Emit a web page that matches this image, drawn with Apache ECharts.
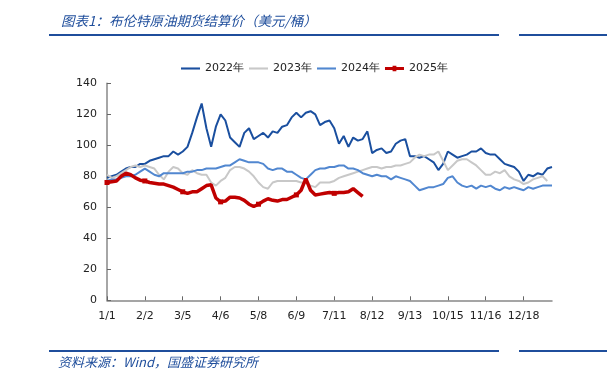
<!DOCTYPE html>
<html><head><meta charset="utf-8">
<script src="https://cdn.jsdelivr.net/npm/echarts@6/dist/echarts.min.js"></script>
<style>html,body{margin:0;padding:0;background:#fff}#c{width:607px;height:383px}</style>
</head><body><div id="c"></div>
<script>
const seriesNames = ['2022年', '2023年', '2024年', '2025年'];
const tickLabels = ['1/1','2/2','3/5','4/6','5/8','6/9','7/11','8/12','9/13','10/15','11/16','12/18'];
const yTicks = [0, 20, 40, 60, 80, 100, 120, 140];

// values sampled every 4 calendar days from 1/1 (leap-year calendar)
const v2022 = [79,80,81,83,85,86,86,88,88,90,
  91,92,93,93,96,94,96,99,108,118,
  127,111,99,112,120,116,105,102,99,108,
  111,104,106,108,105,109,108,112,113,118,
  121,118,121,122,120,113,115,116,111,101,
  106,99,105,103,104,109,95,97,98,95,
  96,101,103,104,93,93,92,93,91,89,
  84,88,96,94,92,93,94,96,96,98,
  95,94,94,91,88,87,86,83,77,81,
  80,82,81,85,86];
const v2023 = [81,79,80,82,84,86,87,86,87,86,
  85,81,78,83,86,85,82,81,84,82,
  81,81,76,74,77,79,84,86,86,85,
  83,80,76,73,72,76,77,77,77,77,
  77,76,76,74,73,76,76,76,77,79,
  80,81,82,83,84,85,86,86,85,86,
  86,87,87,88,89,92,94,93,94,94,
  96,90,84,87,90,91,91,89,87,84,
  81,81,83,82,84,80,78,77,75,76,
  78,79,80,77,null];
const v2024 = [77,78,78,79,80,80,81,83,85,83,
  81,80,82,82,82,82,82,83,83,84,
  84,85,85,85,86,87,87,89,91,90,
  89,89,89,88,85,84,85,85,83,83,
  81,79,78,81,84,85,85,86,86,87,
  87,85,85,84,82,81,80,81,80,80,
  78,80,79,78,77,74,71,72,73,73,
  74,75,79,80,76,74,73,74,72,74,
  73,74,72,71,73,72,73,72,71,73,
  72,73,74,74,74];
const v2025 = [76,76.5,77,80,82,81,79,77.5,77,76,
  75.5,75,75,74,73,71.5,70,69,70,70,
  72,74,74.5,66,63.5,64,66.5,66.5,66,64.5,
  62,60.5,62,64,65.5,64.5,64,65,65,66.5,
  68,71,78.5,71,68,68.5,69,69.5,69,69.5,
  69.5,70,72,69.5,67];

const categories = [];
for (let i = 0; i < v2022.length; i++) {
  const d = new Date(2024, 0, 1 + 4 * i);
  categories.push((d.getMonth() + 1) + '/' + d.getDate());
}

const blue = '#1f4e9c';
const colors = ['#1a4f9f', '#c8c8c8', '#5187d0', '#c00000'];
const lineIcon = 'path://M0,0 H20 V2.2 H0 Z';
const markIcon = 'path://M0,2 H20 V5 H0 Z M8,0.5 H12 V6.5 H8 Z';
const chart = echarts.init(document.getElementById('c'), null, {renderer: 'canvas'});
const lineSeries = (name, data, color, w) => ({
  name, type: 'line', data, symbol: 'none', showSymbol: false,
  lineStyle: {color, width: w}, itemStyle: {color}, smooth: false
});
chart.setOption({
  animation: false,
  title: {
    text: '图表1：布伦特原油期货结算价（美元/桶）', left: 56, top: 9,
    textStyle: {fontSize: 13.5, fontStyle: 'italic', fontWeight: 'normal', color: blue, fontFamily: 'Noto Sans CJK SC'}
  },
  legend: {
    data: [
      {name: seriesNames[0], icon: lineIcon},
      {name: seriesNames[1], icon: lineIcon},
      {name: seriesNames[2], icon: lineIcon},
      {name: seriesNames[3], icon: markIcon}
    ],
    left: 176, top: 58, itemWidth: 19, itemHeight: 12, itemGap: 5,
    textStyle: {fontSize: 11, color: '#222', fontFamily: 'DejaVu Sans'}
  },
  grid: {left: 107, right: 55, top: 83.3, bottom: 82.7, containLabel: false},
  xAxis: {
    type: 'category', data: categories, boundaryGap: false,
    axisLine: {lineStyle: {color: '#888', width: 1.5}},
    axisTick: {inside: true, length: 4, interval: 7, lineStyle: {color: '#666'}},
    axisLabel: {interval: 7, margin: 10, fontSize: 11, color: '#222', fontFamily: 'DejaVu Sans',
      formatter: (v, idx) => tickLabels[idx / 8] || ''},
    splitLine: {show: false}
  },
  yAxis: {
    type: 'value', min: yTicks[0], max: yTicks[yTicks.length - 1], interval: 20,
    axisLine: {show: true, lineStyle: {color: '#888', width: 1.5}},
    axisTick: {show: true, inside: true, length: 4, lineStyle: {color: '#666'}},
    axisLabel: {margin: 10, fontSize: 11, color: '#222', fontFamily: 'DejaVu Sans'},
    splitLine: {show: false}
  },
  series: [
    lineSeries(seriesNames[0], v2022, colors[0], 2),
    lineSeries(seriesNames[1], v2023, colors[1], 2),
    lineSeries(seriesNames[2], v2024, colors[2], 2),
    {name: seriesNames[3], type: 'line', data: v2025, symbol: 'rect', symbolSize: 5, showSymbol: true,
      lineStyle: {color: colors[3], width: 3.5}, itemStyle: {color: colors[3]}}
  ],
  graphic: [
    {type: 'line', shape: {x1: 49, y1: 35, x2: 499, y2: 35}, style: {stroke: blue, lineWidth: 2}},
    {type: 'line', shape: {x1: 519, y1: 35, x2: 607, y2: 35}, style: {stroke: blue, lineWidth: 2}},
    {type: 'line', shape: {x1: 49, y1: 351, x2: 499, y2: 351}, style: {stroke: blue, lineWidth: 2}},
    {type: 'line', shape: {x1: 519, y1: 351, x2: 607, y2: 351}, style: {stroke: blue, lineWidth: 2}},
    {type: 'text', left: 58, top: 356, style: {text: '资料来源：Wind，国盛证券研究所', fontSize: 13,
      fontStyle: 'italic', fill: blue, fontFamily: 'Noto Sans CJK SC'}}
  ]
});
</script></body></html>
